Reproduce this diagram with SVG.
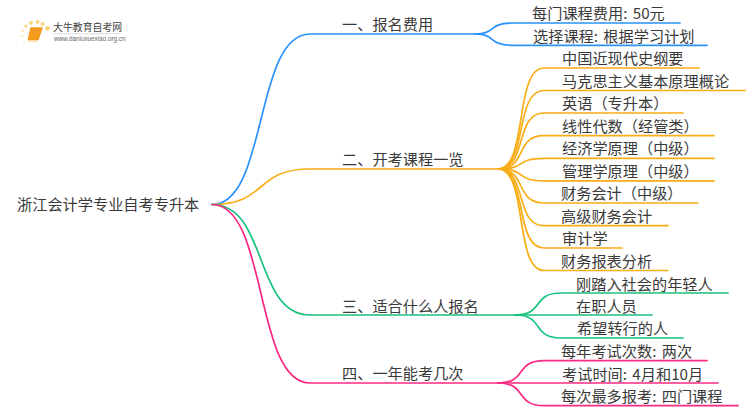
<svg xmlns="http://www.w3.org/2000/svg" width="750" height="410" viewBox="0 0 750 410">
<style>
text{font-family:"Noto Sans CJK SC","DejaVu Sans",sans-serif;font-size:15.2px;fill:#3a3a3a;word-spacing:2px}
.c{fill:none;stroke-width:1.7;stroke-linecap:round}
.b{stroke:#2a93fb}.o{stroke:#f9ad16}.g{stroke:#17c27c}.p{stroke:#fb2a83}
.d{fill:#fbd47e}.e{fill:#fde3ae}
</style>
<rect width="750" height="410" fill="#fff"/>
<g id="logo">
<circle class="d" cx="47.500" cy="28.500" r="2.400"/><circle class="d" cx="42.500" cy="24" r="2"/><circle class="d" cx="37.500" cy="22" r="2"/><circle class="d" cx="31" cy="23" r="2"/><circle class="d" cx="26" cy="26" r="1.600"/><circle class="e" cx="22.500" cy="31" r="1.300"/><circle class="e" cx="22" cy="36" r="1.100"/><circle class="e" cx="24" cy="42" r="0.900"/>
<path d="M31 28H42L38 39.500H28.500Z" fill="#f59a1e" stroke="#f59a1e" stroke-width="1.500" stroke-linejoin="round"/><path d="M27.500 41H38" stroke="#fbd8a0" stroke-width="1.500" fill="none"/>
<text x="53" y="31" style="font-size:9.900px;fill:#444">大牛教育自考网</text>
<rect x="53" y="33.500" width="68" height="0.700" fill="#ccc"/>
<text x="54" y="41" style="font-family:'Liberation Sans',sans-serif;font-size:6.300px;fill:#666">www.daniuxuexiao.org.cn</text>
</g>
<g id="connectors">
<path class="c b" d="M212 204.500C268 204.500 254 34 310 34H475"/>
<path class="c o" d="M212 204.500C268 204.500 254 169 310 169H498"/>
<path class="c g" d="M212 204.500C268 204.500 254 315 310 315H515"/>
<path class="c p" d="M212 204.500C268 204.500 254 383 310 383H498"/>
<path class="c b" d="M475 34C497 34 487 23 513 23H680"/>
<path class="c b" d="M475 34C497 34 487 45.300 513 45.300H707"/>
<path class="c o" d="M498 169C528 169 514 68 544 68H699"/>
<path class="c o" d="M498 169C528 169 514 90.500 544 90.500H745"/>
<path class="c o" d="M498 169C528 169 514 113 544 113H683"/>
<path class="c o" d="M498 169C528 169 514 135.700 544 135.700H714"/>
<path class="c o" d="M498 169C528 169 514 158.300 544 158.300H714"/>
<path class="c o" d="M498 169C528 169 514 180.800 544 180.800H714"/>
<path class="c o" d="M498 169C528 169 514 203 544 203H698"/>
<path class="c o" d="M498 169C528 169 514 225.700 544 225.700H668"/>
<path class="c o" d="M498 169C528 169 514 248 544 248H622"/>
<path class="c o" d="M498 169C528 169 514 270.500 544 270.500H668"/>
<path class="c g" d="M515 315C545 315 531 293 561 293H728"/>
<path class="c g" d="M515 315C545 315 531 315 561 315H652"/>
<path class="c g" d="M515 315C545 315 531 338 561 338H683"/>
<path class="c p" d="M498 383C528 383 514 360.700 544 360.700H707"/>
<path class="c p" d="M498 383C528 383 514 383 544 383H718"/>
<path class="c p" d="M498 383C528 383 514 405.700 544 405.700H738"/>
</g>
<g id="root"><text x="17" y="210">浙江会计学专业自考专升本</text></g>
<g id="b1"><text x="342" y="30">一、报名费用</text></g>
<g id="b2"><text x="342" y="165">二、开考课程一览</text></g>
<g id="b3"><text x="342" y="312">三、适合什么人报名</text></g>
<g id="b4"><text x="342" y="379">四、一年能考几次</text></g>
<g id="l1"><text x="532" y="19">每门课程费用: 50元</text></g>
<g id="l2"><text x="533" y="42">选择课程: 根据学习计划</text></g>
<g id="l3"><text x="562" y="64">中国近现代史纲要</text></g>
<g id="l4"><text x="562" y="87">马克思主义基本原理概论</text></g>
<g id="l5"><text x="562" y="109">英语（专升本）</text></g>
<g id="l6"><text x="562" y="132">线性代数（经管类）</text></g>
<g id="l7"><text x="562" y="154">经济学原理（中级）</text></g>
<g id="l8"><text x="562" y="177">管理学原理（中级）</text></g>
<g id="l9"><text x="561" y="199">财务会计（中级）</text></g>
<g id="l10"><text x="561" y="222">高级财务会计</text></g>
<g id="l11"><text x="562" y="244">审计学</text></g>
<g id="l12"><text x="561" y="267">财务报表分析</text></g>
<g id="l13"><text x="576" y="290">刚踏入社会的年轻人</text></g>
<g id="l14"><text x="576" y="312">在职人员</text></g>
<g id="l15"><text x="577" y="334">希望转行的人</text></g>
<g id="l16"><text x="561" y="357">每年考试次数: 两次</text></g>
<g id="l17"><text x="562" y="380">考试时间: 4月和10月</text></g>
<g id="l18"><text x="561" y="402">每次最多报考: 四门课程</text></g>
</svg>
